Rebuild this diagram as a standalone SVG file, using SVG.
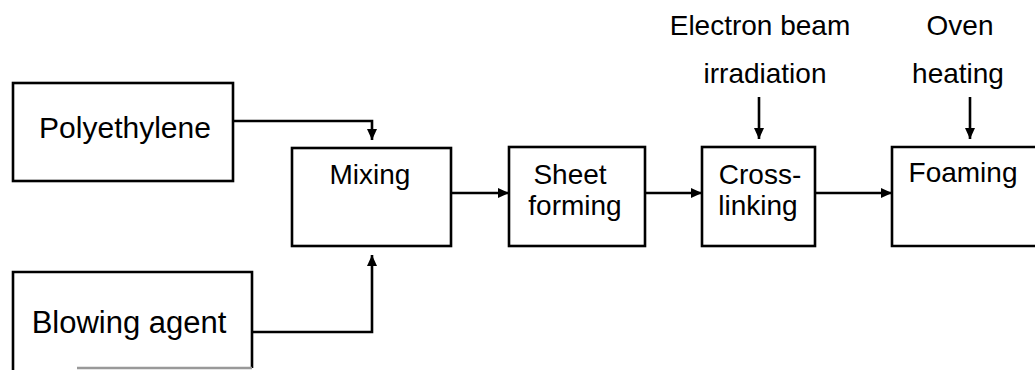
<svg xmlns="http://www.w3.org/2000/svg" width="1035" height="370" viewBox="0 0 1035 370">
<style>
  .box{fill:none;stroke:#000;stroke-width:2.6}
  .ln{fill:none;stroke:#000;stroke-width:2.6}
  text{font-family:"Liberation Sans",Arial,sans-serif;font-size:28px;fill:#000;text-anchor:middle}
</style>
<defs>
  <marker id="ah" markerUnits="userSpaceOnUse" markerWidth="12" markerHeight="12" viewBox="0 0 12 12" refX="11" refY="6" orient="auto">
    <path d="M0,1 L11,6 L0,11 Z" fill="#000"/>
  </marker>
</defs>
<rect width="1035" height="370" fill="#fff"/>
<g id="polyethylene">
  <rect class="box" x="13" y="83" width="220" height="98"/>
  <text x="125" y="138" style="font-size:30px">Polyethylene</text>
</g>
<g id="blowing-agent">
  <path class="box" d="M13,372 V272 H252 V368"/>
  <path d="M77,368 H252" stroke="#999" stroke-width="2.6"/>
  <text x="129" y="333" style="font-size:31px">Blowing agent</text>
</g>
<g id="mixing">
  <rect class="box" x="292" y="148" width="159" height="98"/>
  <text x="370" y="184">Mixing</text>
</g>
<g id="sheet-forming">
  <rect class="box" x="509" y="147" width="136" height="99"/>
  <text x="570" y="184">Sheet</text>
  <text x="575" y="215">forming</text>
</g>
<g id="cross-linking">
  <rect class="box" x="702" y="147" width="113" height="99"/>
  <text x="760" y="184">Cross-</text>
  <text x="758" y="215">linking</text>
</g>
<g id="foaming">
  <path class="box" d="M1037,147 H892 V246 H1037"/>
  <text x="963" y="182">Foaming</text>
</g>
<g id="electron-beam-label">
  <text x="760" y="35">Electron beam</text>
  <text x="765" y="83">irradiation</text>
</g>
<g id="oven-label">
  <text x="960" y="35">Oven</text>
  <text x="958" y="83">heating</text>
</g>
<g id="connectors">
  <path class="ln" d="M233,121 H372 V140" marker-end="url(#ah)"/>
  <path class="ln" d="M252,332 H372 V255" marker-end="url(#ah)"/>
  <path class="ln" d="M451,193 H509" marker-end="url(#ah)"/>
  <path class="ln" d="M645,193 H702" marker-end="url(#ah)"/>
  <path class="ln" d="M815,193 H892" marker-end="url(#ah)"/>
  <path class="ln" d="M759,97 V139" marker-end="url(#ah)"/>
  <path class="ln" d="M970,97 V139" marker-end="url(#ah)"/>
</g>
</svg>
